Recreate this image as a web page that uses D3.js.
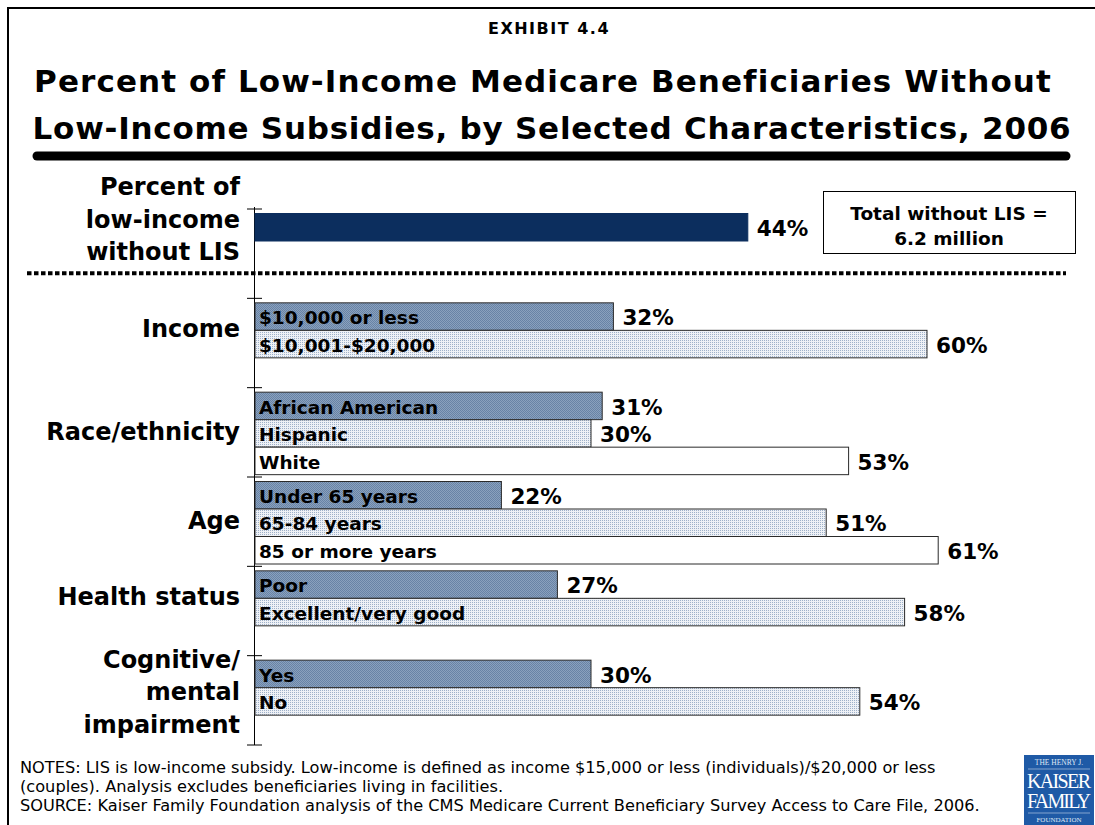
<!DOCTYPE html>
<html>
<head>
<meta charset="utf-8">
<script src="https://cdn.jsdelivr.net/npm/d3@7"></script>
<style>
  html, body { margin: 0; padding: 0; background: #fff; }
  svg { display: block; }
  text { font-family: "DejaVu Sans", Verdana, sans-serif; fill: #000; }
</style>
</head>
<body>
<svg id="chart" width="1095" height="825"></svg>
<script>
// Groups of characteristics, each with its own bars
const groups = ["total", "income", "race", "age", "health", "cognitive"];
const groupLabels = [
  ["Percent of", "low-income", "without LIS"],
  ["Income"],
  ["Race/ethnicity"],
  ["Age"],
  ["Health status"],
  ["Cognitive/", "mental", "impairment"]
];
// Bar labels and values (percent without LIS), one array per group
const totalBars = [""];
const totalValues = [44];
const incomeBars = ["$10,000 or less", "$10,001-$20,000"];
const incomeValues = [32, 60];
const raceBars = ["African American", "Hispanic", "White"];
const raceValues = [31, 30, 53];
const ageBars = ["Under 65 years", "65-84 years", "85 or more years"];
const ageValues = [22, 51, 61];
const healthBars = ["Poor", "Excellent/very good"];
const healthValues = [27, 58];
const cognitiveBars = ["Yes", "No"];
const cognitiveValues = [30, 54];

const titleLines = [
  "Percent of Low-Income Medicare Beneficiaries Without",
  "Low-Income Subsidies, by Selected Characteristics, 2006"
];
const exhibit = "EXHIBIT 4.4";
const totalBox = ["Total without LIS =", "6.2 million"];
const notes = [
  "NOTES: LIS is low-income subsidy.  Low-income is defined as income $15,000 or less (individuals)/$20,000 or less",
  "(couples). Analysis excludes beneficiaries living in facilities.",
  "SOURCE: Kaiser Family Foundation analysis of the CMS Medicare Current Beneficiary Survey Access to Care File, 2006."
];

const barSets = [
  [totalBars, totalValues],
  [incomeBars, incomeValues],
  [raceBars, raceValues],
  [ageBars, ageValues],
  [healthBars, healthValues],
  [cognitiveBars, cognitiveValues]
];
const rows = [];
barSets.forEach(([labels, values], gi) => {
  labels.forEach((lab, i) => rows.push({ group: groups[gi], idx: i, label: lab, value: values[i] }));
});

const svg = d3.select("#chart");
const defs = svg.append("defs");

// Dithered fills for the first and second bar of each group
(function () {
  const p = defs.append("pattern").attr("id", "fillDark").attr("width", 2).attr("height", 2)
    .attr("patternUnits", "userSpaceOnUse");
  p.append("rect").attr("width", 2).attr("height", 2).attr("fill", "#8aa1bd");
  p.append("rect").attr("width", 1).attr("height", 1).attr("fill", "#6883a6");
  p.append("rect").attr("x", 1).attr("y", 1).attr("width", 1).attr("height", 1).attr("fill", "#6883a6");
})();
(function () {
  const p = defs.append("pattern").attr("id", "fillLight").attr("width", 2).attr("height", 2)
    .attr("patternUnits", "userSpaceOnUse");
  p.append("rect").attr("width", 2).attr("height", 2).attr("fill", "#eef1f6");
  p.append("rect").attr("width", 1).attr("height", 1).attr("fill", "#9fb1c9");
})();
const fills = ["url(#fillDark)", "url(#fillLight)", "#ffffff"];

// Frame
svg.append("path").attr("d", "M8,825 V8 H1095").attr("fill", "none")
  .attr("stroke", "#000").attr("stroke-width", 2);

// Heading
svg.append("text").attr("x", 549).attr("y", 34).attr("text-anchor", "middle")
  .attr("font-weight", "bold").attr("font-size", 16).attr("letter-spacing", 1.5).text(exhibit);
svg.selectAll("text.title").data(titleLines).join("text").attr("class", "title")
  .attr("x", (d, i) => i ? 552 : 543).attr("y", (d, i) => 92 + i * 47).attr("text-anchor", "middle")
  .attr("font-weight", "bold").attr("font-size", 31)
  .attr("letter-spacing", (d, i) => i ? 0.75 : 1.1).text(d => d);
svg.append("line").attr("x1", 37).attr("x2", 1066).attr("y1", 156).attr("y2", 156)
  .attr("stroke", "#000").attr("stroke-width", 9).attr("stroke-linecap", "round");

// Scales
const x = d3.scaleLinear().domain([0, 70]).range([255, 1039]);
const y = d3.scaleBand().domain(groups).range([209, 745]).paddingInner(0).paddingOuter(0);
const slot = 27.5, inset = 4.5;
const barY = d => y(d.group) + inset + d.idx * slot;

// Axis with tick marks at group boundaries
const tickVals = groups.map(g => y(g)).concat([y.range()[1]]);
const axisG = svg.append("g");
axisG.append("line").attr("x1", 254.5).attr("x2", 254.5).attr("y1", tickVals[0] - 2)
  .attr("y2", tickVals[tickVals.length - 1]).attr("stroke", "#000").attr("stroke-width", 1);
axisG.selectAll("line.tick").data(tickVals).join("line").attr("class", "tick")
  .attr("x1", 247).attr("x2", 262).attr("y1", d => d).attr("y2", d => d)
  .attr("stroke", "#000").attr("stroke-width", 1);

// Dotted separator between the total and the breakdowns
svg.append("line").attr("x1", 27).attr("x2", 1066)
  .attr("y1", y("income") - 25).attr("y2", y("income") - 25)
  .attr("stroke", "#000").attr("stroke-width", 4).attr("stroke-dasharray", "4.5,2.5");

// Bars
svg.selectAll("rect.bar").data(rows).join("rect").attr("class", "bar")
  .attr("x", x(0)).attr("y", barY).attr("width", d => x(d.value) - x(0)).attr("height", slot)
  .attr("fill", d => d.group === "total" ? "#0c2e5e" : fills[d.idx])
  .attr("stroke", d => d.group === "total" ? "#0c2e5e" : "#2a2a2a").attr("stroke-width", 1);

// Category names inside bars
svg.selectAll("text.inlab").data(rows.filter(d => d.label)).join("text").attr("class", "inlab")
  .attr("x", x(0) + 4).attr("y", d => barY(d) + slot / 2 + 1).attr("dy", "0.36em")
  .attr("font-weight", "bold").attr("font-size", 18.5).text(d => d.label);

// Value labels
svg.selectAll("text.val").data(rows).join("text").attr("class", "val")
  .attr("x", d => x(d.value) + 9).attr("y", d => barY(d) + slot / 2 + 1).attr("dy", "0.36em")
  .attr("font-weight", "bold").attr("font-size", 21.5).text(d => d.value + "%");

// Group labels on the left
const counts = barSets.map(s => s[0].length);
groups.forEach((g, gi) => {
  const lines = groupLabels[gi];
  const base = y(g) + inset + counts[gi] * slot / 2;
  const cy = gi === 0 ? y(g) + 10 : (lines.length > 1 ? base + 4 : base - 2);
  const lh = 32.5;
  svg.append("g").selectAll("text").data(lines).join("text")
    .attr("x", 240).attr("y", (d, i) => cy + (i - (lines.length - 1) / 2) * lh)
    .attr("dy", "0.36em").attr("text-anchor", "end")
    .attr("font-weight", "bold").attr("font-size", 24).text(d => d);
});

// Total box
svg.append("rect").attr("x", 823.5).attr("y", 191.5).attr("width", 252).attr("height", 62)
  .attr("fill", "#fff").attr("stroke", "#000").attr("stroke-width", 1);
svg.selectAll("text.box").data(totalBox).join("text").attr("class", "box")
  .attr("x", 949).attr("y", (d, i) => 213 + i * 25).attr("dy", "0.36em").attr("text-anchor", "middle")
  .attr("font-weight", "bold").attr("font-size", 18.5).text(d => d);

// Notes
svg.selectAll("text.note").data(notes).join("text").attr("class", "note")
  .attr("x", 20).attr("y", (d, i) => 767 + i * 19).attr("dy", "0.36em")
  .attr("font-size", 16.2).text(d => d);

// Foundation logo
const logo = svg.append("g").attr("transform", "translate(1024,755)");
logo.append("rect").attr("width", 70).attr("height", 70).attr("fill", "#1f5aa6");
const serif = "'Liberation Serif', 'DejaVu Serif', serif";
logo.append("text").attr("x", 35).attr("y", 10).attr("text-anchor", "middle")
  .style("font-family", serif).style("fill", "#dfe8f5").attr("font-size", 7.5).text("THE HENRY J.");
logo.append("line").attr("x1", 4).attr("x2", 66).attr("y1", 14).attr("y2", 14).attr("stroke", "#9fb7da").attr("stroke-width", 0.8);
logo.append("text").attr("x", 35).attr("y", 33).attr("text-anchor", "middle")
  .style("font-family", serif).style("fill", "#fff").attr("font-size", 20).attr("textLength", 64).text("KAISER");
logo.append("text").attr("x", 35).attr("y", 53).attr("text-anchor", "middle")
  .style("font-family", serif).style("fill", "#fff").attr("font-size", 20).attr("textLength", 64).text("FAMILY");
logo.append("line").attr("x1", 4).attr("x2", 66).attr("y1", 58).attr("y2", 58).attr("stroke", "#9fb7da").attr("stroke-width", 0.8);
logo.append("text").attr("x", 35).attr("y", 67).attr("text-anchor", "middle")
  .style("font-family", serif).style("fill", "#dfe8f5").attr("font-size", 7).text("FOUNDATION");
</script>
</body>
</html>
